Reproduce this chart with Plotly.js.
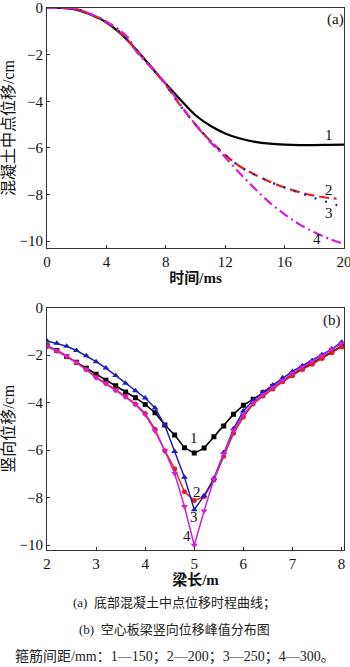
<!DOCTYPE html>
<html>
<head>
<meta charset="utf-8">
<script src="https://cdn.plot.ly/plotly-3.0.1.min.js"></script>
<style>
html,body{margin:0;padding:0;background:#fff;}
#chart{width:350px;height:667px;}
</style>
</head>
<body>
<div id="chart"></div>
<script>
// ---- Panel (a): mid-point displacement time history ----
var timeA1 = [0, 1, 2, 3, 4, 5, 6, 7, 7.5, 8, 9, 10, 11, 12, 13, 14, 15, 16, 17, 18, 19, 20];
var disp1  = [0, 0, -0.08, -0.3, -0.62, -1.12, -1.78, -2.52, -2.9, -3.25, -3.95, -4.6, -5.05, -5.38, -5.6, -5.74, -5.82, -5.86, -5.88, -5.88, -5.87, -5.86];
var timeA2 = [0, 1, 2, 3, 4, 5, 6, 7, 7.5, 8, 9, 10, 11, 12, 13, 14, 15, 16, 17, 18, 19, 19.5];
var disp2  = [0, 0, -0.06, -0.28, -0.6, -1.1, -1.8, -2.5, -2.9, -3.3, -4.2, -5.0, -5.7, -6.3, -6.8, -7.15, -7.45, -7.7, -7.9, -8.05, -8.15, -8.18];
var timeA3 = [0, 1, 2, 3, 4, 5, 6, 7, 7.5, 8, 9, 10, 11, 12, 13, 14, 15, 16, 17, 18, 19, 20];
var disp3  = [0, 0, -0.06, -0.28, -0.6, -1.1, -1.8, -2.5, -2.9, -3.3, -4.2, -5.0, -5.7, -6.3, -6.8, -7.15, -7.45, -7.7, -7.92, -8.15, -8.35, -8.55];
var timeA4 = [0, 1, 2, 3, 4, 4.5, 5, 5.5, 6, 7, 8, 9, 10, 11, 12, 13, 14, 15, 16, 17, 18, 19, 20];
var disp4  = [0, 0, -0.05, -0.28, -0.58, -0.78, -1.0, -1.3, -1.85, -2.55, -3.25, -4.15, -5.0, -5.75, -6.4, -7.1, -7.75, -8.35, -8.85, -9.28, -9.62, -9.9, -10.12];

// ---- Panel (b): vertical displacement peak distribution ----
var beamX = [2.0, 2.2, 2.4, 2.6, 2.8, 3.0, 3.2, 3.4, 3.6, 3.8, 4.0, 4.2, 4.4, 4.6, 4.8, 5.0, 5.2, 5.4, 5.6, 5.8, 6.0, 6.2, 6.4, 6.6, 6.8, 7.0, 7.2, 7.4, 7.6, 7.8, 8.0];
var peak1 = [-1.6, -1.8, -2.05, -2.3, -2.55, -2.8, -3.05, -3.28, -3.55, -3.79, -4.07, -4.42, -4.94, -5.36, -5.89, -6.12, -5.91, -5.43, -4.98, -4.48, -4.11, -3.85, -3.58, -3.32, -3.06, -2.8, -2.56, -2.32, -2.1, -1.86, -1.62];
var peak2 = [-1.62, -1.82, -2.05, -2.32, -2.6, -2.92, -3.18, -3.46, -3.74, -4.05, -4.45, -5.12, -6.02, -6.78, -7.75, -8.12, -7.95, -7.25, -6.25, -5.28, -4.6, -4.05, -3.72, -3.42, -3.12, -2.86, -2.6, -2.38, -2.14, -1.9, -1.65];
var peak3 = [-1.4, -1.5, -1.62, -1.8, -2.02, -2.27, -2.54, -2.85, -3.18, -3.5, -3.8, -4.22, -4.95, -6.05, -7.14, -8.5, -7.92, -7.18, -6.1, -5.1, -4.35, -3.9, -3.55, -3.25, -2.95, -2.68, -2.44, -2.22, -1.98, -1.74, -1.45];
var peak4 = [-1.63, -1.8, -2.02, -2.3, -2.6, -2.95, -3.2, -3.48, -3.76, -4.07, -4.49, -5.19, -6.03, -6.98, -8.37, -10.0, -8.56, -7.21, -6.16, -5.16, -4.5, -4.0, -3.65, -3.35, -3.05, -2.76, -2.5, -2.26, -2.02, -1.76, -1.5];

var seriesNames = ['1', '2', '3', '4'];
var captionA = '(a)  底部混凝土中点位移时程曲线；';
var captionB = '(b)  空心板梁竖向位移峰值分布图';
var captionC = '箍筋间距/mm：1—150；2—200；3—250；4—300。';

var serif = 'Liberation Serif, Noto Sans CJK SC, serif';
var colors = ['#000000', '#e0201b', '#1f1fb4', '#d41fd4'];

var traces = [
  {x: timeA1, y: disp1, name: seriesNames[0], mode: 'lines', line: {color: colors[0], width: 2.2, shape: 'spline'}, xaxis: 'x', yaxis: 'y'},
  {x: timeA2, y: disp2, name: seriesNames[1], mode: 'lines', line: {color: colors[1], width: 2.2, dash: '10px,5px', shape: 'spline'}, xaxis: 'x', yaxis: 'y'},
  {x: timeA3, y: disp3, name: seriesNames[2], mode: 'lines', line: {color: colors[2], width: 2.2, dash: '2px,9px', shape: 'spline'}, xaxis: 'x', yaxis: 'y'},
  {x: timeA4, y: disp4, name: seriesNames[3], mode: 'lines', line: {color: colors[3], width: 2.2, dash: '10px,4px,2px,4px', shape: 'spline'}, xaxis: 'x', yaxis: 'y'},
  {x: beamX, y: peak1, name: seriesNames[0], mode: 'lines+markers', line: {color: colors[0], width: 1.5}, marker: {symbol: 'square', size: 5, color: colors[0]}, xaxis: 'x2', yaxis: 'y2'},
  {x: beamX, y: peak2, name: seriesNames[1], mode: 'lines+markers', line: {color: colors[1], width: 1.5}, marker: {symbol: 'circle', size: 5, color: colors[1]}, xaxis: 'x2', yaxis: 'y2'},
  {x: beamX, y: peak3, name: seriesNames[2], mode: 'lines+markers', line: {color: colors[2], width: 1.5}, marker: {symbol: 'triangle-up', size: 6, color: colors[2]}, xaxis: 'x2', yaxis: 'y2'},
  {x: beamX, y: peak4, name: seriesNames[3], mode: 'lines+markers', line: {color: colors[3], width: 1.5}, marker: {symbol: 'triangle-down', size: 6, color: colors[3]}, xaxis: 'x2', yaxis: 'y2'}
];

var axisCommon = {
  showline: true, mirror: true, linecolor: '#333', linewidth: 1,
  ticks: 'inside', ticklen: 3, tickcolor: '#333',
  showgrid: false, zeroline: false, ticklabeloverflow: 'allow',
  tickfont: {family: serif, size: 15, color: '#111'}
};
function ax(extra) { return Object.assign({}, axisCommon, extra); }

var lbl = function (x, y, t, xr, yr, size) {
  return {x: x, y: y, xref: xr, yref: yr, text: t, showarrow: false,
          font: {family: serif, size: size || 15, color: '#111'}};
};
var cap = function (x, y, t, size) {
  return {x: x, y: y, xref: 'paper', yref: 'paper', xanchor: 'center', yanchor: 'middle',
          text: t, showarrow: false, font: {family: serif, size: size, color: '#222'}};
};

var layout = {
  width: 350, height: 667,
  margin: {l: 47, r: 6, t: 8, b: 117},
  paper_bgcolor: '#ffffff', plot_bgcolor: '#ffffff',
  showlegend: false,
  xaxis: ax({domain: [0, 1], range: [0, 20], tickvals: [0, 4, 8, 12, 16, 20], anchor: 'y',
    title: {text: '<b>时间/ms</b>', font: {family: serif, size: 15, color: '#111'}, standoff: 2}}),
  yaxis: ax({domain: [0.557, 1], range: [-10.3, 0], tickvals: [0, -2, -4, -6, -8, -10], anchor: 'x',
    title: {text: '混凝土中点位移/cm', font: {family: serif, size: 16, color: '#111'}, standoff: 4}}),
  xaxis2: ax({domain: [0, 1], range: [2, 8.05], tickvals: [2, 3, 4, 5, 6, 7, 8], anchor: 'y2',
    title: {text: '<b>梁长/m</b>', font: {family: serif, size: 15, color: '#111'}, standoff: 2}}),
  yaxis2: ax({domain: [0, 0.447], range: [-10.2, 0], tickvals: [0, -2, -4, -6, -8, -10], anchor: 'x2',
    title: {text: '竖向位移/cm', font: {family: serif, size: 16, color: '#111'}, standoff: 4}}),
  annotations: [
    lbl(19.4, -0.5, '(a)', 'x', 'y'),
    lbl(19, -5.45, '1', 'x', 'y'),
    lbl(19, -7.8, '2', 'x', 'y'),
    lbl(19, -8.8, '3', 'x', 'y'),
    lbl(18.2, -9.9, '4', 'x', 'y'),
    lbl(7.8, -0.55, '(b)', 'x2', 'y2'),
    lbl(5.0, -5.5, '1', 'x2', 'y2'),
    lbl(5.05, -7.75, '2', 'x2', 'y2'),
    lbl(5.0, -8.8, '3', 'x2', 'y2'),
    lbl(4.85, -9.6, '4', 'x2', 'y2'),
    cap(0.43, -0.0978, captionA, 13),
    cap(0.43, -0.1458, captionB, 13),
    cap(0.431, -0.1974, captionC, 14)
  ]
};

Plotly.newPlot('chart', traces, layout, {displayModeBar: false, staticPlot: true});
</script>
</body>
</html>
